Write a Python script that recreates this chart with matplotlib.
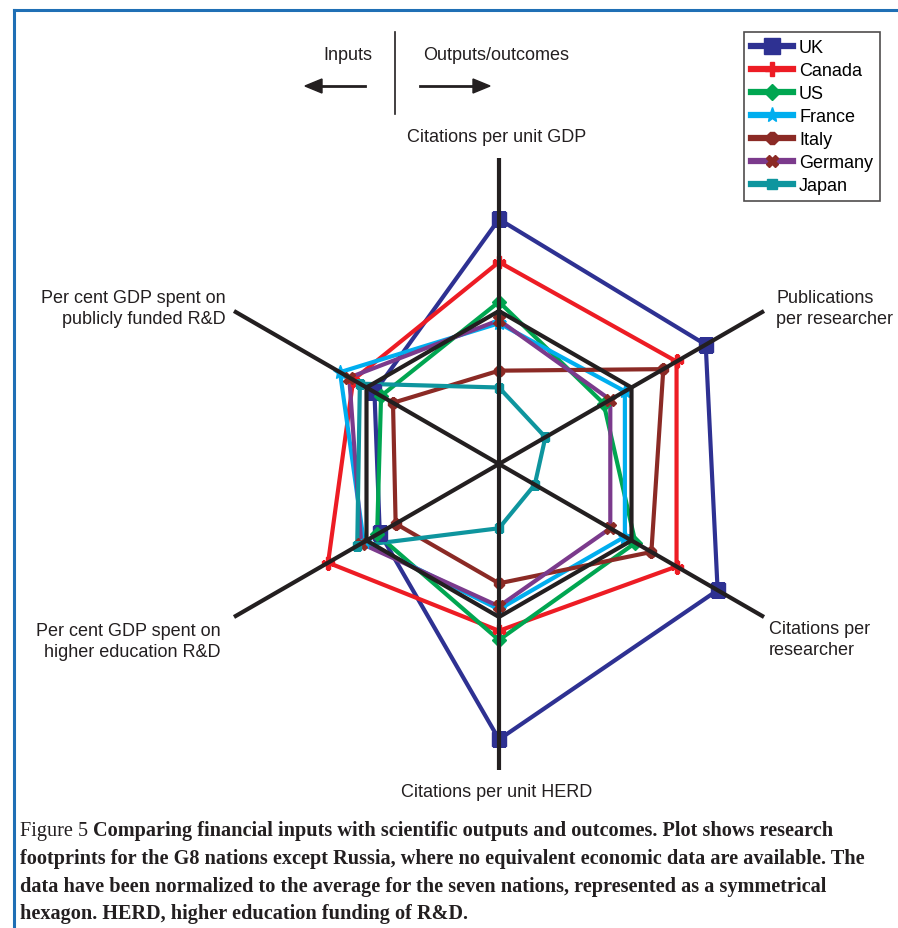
import numpy as np
import matplotlib
matplotlib.use("Agg")
import matplotlib.pyplot as plt
from matplotlib.lines import Line2D

W, H = 898, 929
DPI = 100

# ---------------- data ----------------
categories = ["Citations per unit GDP", "Publications\nper researcher", "Citations per\nresearcher",
              "Citations per unit HERD", "Per cent GDP spent on\nhigher education R&D",
              "Per cent GDP spent on\npublicly funded R&D"]
countries = ["UK", "Canada", "US", "France", "Italy", "Germany", "Japan"]
uk = [1.60, 1.56, 1.65, 1.80, 0.90, 0.94]
canada = [1.32, 1.34, 1.34, 1.09, 1.29, 1.10]
us = [1.06, 0.79, 1.03, 1.15, 0.92, 0.89]
france = [0.92, 0.95, 0.95, 0.95, 1.02, 1.20]
italy = [0.61, 1.24, 1.15, 0.78, 0.78, 0.80]
germany = [0.94, 0.84, 0.84, 0.93, 1.04, 1.13]
japan = [0.50, 0.35, 0.27, 0.42, 1.07, 1.05]
average = [1, 1, 1, 1, 1, 1]
axis_extent = 2.0

series = [uk, canada, us, france, italy, germany, japan]
line_colors = ["#2E3192", "#ED1C24", "#00A651", "#00AEEF", "#8B2A25", "#7B3A8C", "#0E959E"]
marker_colors = ["#2E3192", "#ED1C24", "#00A651", "#00AEEF", "#8B2A25", "#8B2A25", "#0E959E"]
markers = ["s", "P", "D", "*", "8", "X", "s"]
msizes = [10, 9, 7, 10, 8, 8, 6]

plt.rcParams["font.family"] = ["Liberation Sans", "DejaVu Sans"]
fig = plt.figure(figsize=(W / DPI, H / DPI), dpi=DPI)

def fx(x):
    return x / W

def fy(y):
    return 1 - y / H

# polar axes: centre at (499,465) px, 153 px per unit
cx, cy, unit = 499, 465, 153
rmax = 2.1
rad = rmax * unit
ax = fig.add_axes([fx(cx - rad), fy(cy + rad), 2 * rad / W, 2 * rad / H], projection="polar")
ax.set_theta_zero_location("N")
ax.set_theta_direction(-1)
ax.set_ylim(0, rmax)
ax.grid(False)
ax.set_xticks([])
ax.set_yticks([])
ax.spines["polar"].set_visible(False)
ax.patch.set_alpha(0)

n = len(categories)
theta = np.arange(n) * 2 * np.pi / n
theta_c = np.append(theta, theta[0])

for vals, lc, mc, mk, ms in zip(series, line_colors, marker_colors, markers, msizes):
    v = np.append(vals, vals[0])
    ax.plot(theta_c, v, color=lc, lw=3.0, zorder=2, solid_joinstyle="miter")
    ax.plot(theta, vals, ls="none", marker=mk, ms=ms, color=mc, mec=mc, zorder=2.5)

# black average hexagon + axes
ax.plot(theta_c, np.append(average, average[0]), color="#231F20", lw=3.0, zorder=3)
for t in theta:
    ax.plot([t, t], [0, axis_extent], color="#231F20", lw=3.0, zorder=3, solid_capstyle="butt")

# axis labels
lab_kw = dict(fontsize=13, color="#231F20")
fig.text(fx(497), fy(138), categories[0], ha="center", va="center", **lab_kw)
fig.text(fx(776), fy(309), categories[1], ha="left", va="center", linespacing=1.25, **lab_kw)
fig.text(fx(769), fy(640), categories[2], ha="left", va="center", linespacing=1.25, **lab_kw)
fig.text(fx(497), fy(793), categories[3], ha="center", va="center", **lab_kw)
fig.text(fx(221), fy(642), categories[4], ha="right", va="center", linespacing=1.25, **lab_kw)
fig.text(fx(226), fy(309), categories[5], ha="right", va="center", linespacing=1.25, **lab_kw)

# inputs / outputs header
fig.text(fx(348), fy(56), "Inputs", ha="center", va="center", **lab_kw)
fig.text(fx(496), fy(56), "Outputs/outcomes", ha="center", va="center", **lab_kw)
fig.add_artist(Line2D([fx(395), fx(395)], [fy(33), fy(115)], color="#231F20", lw=1.2))
fig.add_artist(Line2D([fx(314), fx(365)], [fy(87), fy(87)], color="#231F20", lw=2.0))
fig.add_artist(Line2D([fx(420), fx(480)], [fy(87), fy(87)], color="#231F20", lw=2.0))
fig.patches.append(plt.Polygon([[fx(305), fy(87)], [fx(322), fy(80)], [fx(322), fy(94)]],
                               closed=True, color="#231F20", transform=fig.transFigure))
fig.patches.append(plt.Polygon([[fx(490), fy(87)], [fx(473), fy(80)], [fx(473), fy(94)]],
                               closed=True, color="#231F20", transform=fig.transFigure))

# legend
handles = [Line2D([], [], color=lc, lw=4.5, marker=mk, ms=ms + 1, mfc=mc, mec=mc)
           for lc, mc, mk, ms in zip(line_colors, marker_colors, markers, msizes)]
leg = fig.legend(handles, countries, loc="upper left", bbox_to_anchor=(fx(744), fy(33)),
                 frameon=True, fancybox=False, edgecolor="#231F20", fontsize=13,
                 handlelength=2.3, handletextpad=0.35, labelspacing=0.33, borderpad=0.4,
                 borderaxespad=0)
leg.get_frame().set_linewidth(1.2)

# blue frame
frame_c = "#1F6FB5"
fig.add_artist(Line2D([fx(14), fx(W)], [fy(11), fy(11)], color=frame_c, lw=2.2))
fig.add_artist(Line2D([fx(14), fx(14)], [fy(11), fy(H)], color=frame_c, lw=2.2))

# caption
cap_lines = [
    ("Figure 5 ", "Comparing financial inputs with scientific outputs and outcomes. Plot shows research"),
    ("", "footprints for the G8 nations except Russia, where no equivalent economic data are available. The"),
    ("", "data have been normalized to the average for the seven nations, represented as a symmetrical"),
    ("", "hexagon. HERD, higher education funding of R&D."),
]
serif = ["Liberation Serif", "DejaVu Serif"]
renderer = fig.canvas.get_renderer()
probe = fig.text(0, 0, cap_lines[1][1], fontsize=10, fontweight="bold", family=serif)
w10 = probe.get_window_extent(renderer).width
probe.remove()
cap_size = 10 * (866 - 20) / w10
baselines = [836, 864, 892, 919]
for (reg, bold), yb in zip(cap_lines, baselines):
    x0 = 20
    if reg:
        t = fig.text(fx(x0), fy(yb), reg, fontsize=cap_size, family=serif, va="baseline",
                     color="#231F20")
        x0 += t.get_window_extent(renderer).width
    fig.text(fx(x0), fy(yb), bold, fontsize=cap_size, family=serif, fontweight="bold",
             va="baseline", color="#231F20")

fig.savefig("out.png", dpi=DPI)
